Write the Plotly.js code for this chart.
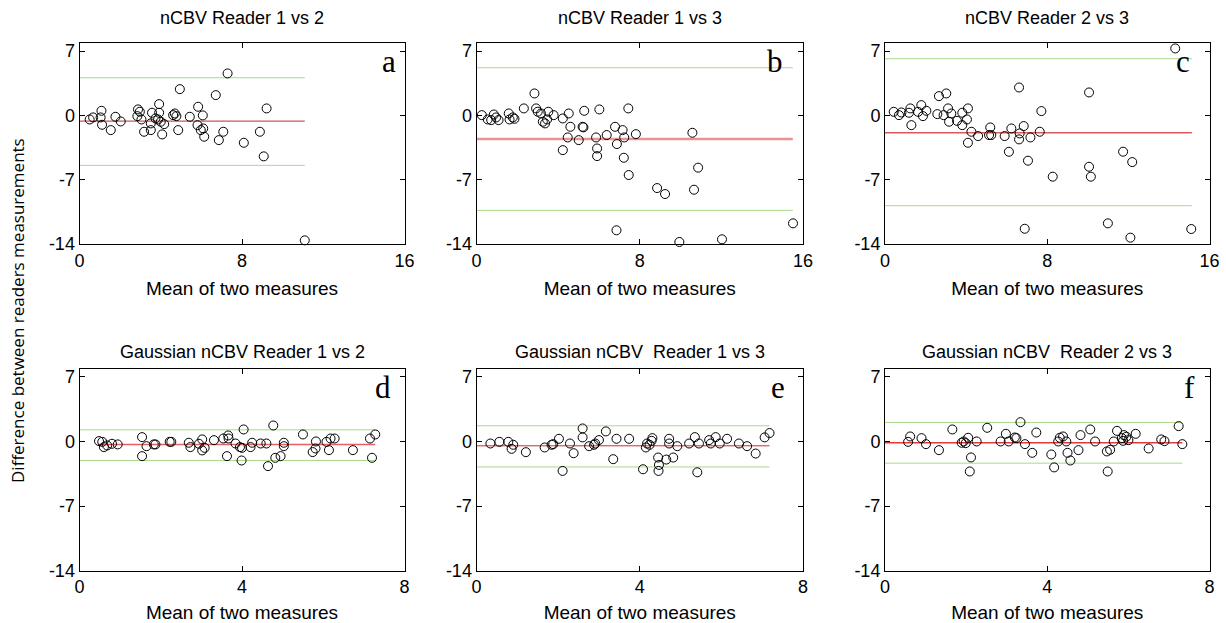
<!DOCTYPE html>
<html>
<head>
<meta charset="utf-8">
<script src="https://cdn.plot.ly/plotly-3.0.1.min.js"></script>
<style>html,body{margin:0;padding:0;background:#fff;}#chart{width:1226px;height:623px;}</style>
</head>
<body>
<div id="chart"></div>
<script>
// ---------- data ----------
const panelTitles = ["nCBV Reader 1 vs 2", "nCBV Reader 1 vs 3", "nCBV Reader 2 vs 3",
  "Gaussian nCBV Reader 1 vs 2", "Gaussian nCBV\u00a0 Reader 1 vs 3", "Gaussian nCBV\u00a0 Reader 2 vs 3"];
const panelLetters = ["a", "b", "c", "d", "e", "f"];
const yTickVals = [-14, -7, 0, 7];
const xTickTop = [0, 8, 16];
const xTickBottom = [0, 4, 8];

const xA = [0.50,0.67,1.08,1.04,1.11,1.54,1.77,2.03,2.88,2.97,2.85,3.05,3.18,3.51,3.57,3.51,3.92,3.92,3.87,4.07,4.17,4.61,4.69,4.77,4.86,4.94,5.43,5.84,6.07,5.81,5.97,6.09,6.14,6.71,6.86,7.08,8.09,8.88,9.21,7.29,9.07,11.09,3.74,4.00];
const yA = [-0.44,-0.22,0.50,-0.22,-1.02,-1.60,-0.15,-0.66,0.65,0.40,-0.08,-0.44,-1.78,-1.60,0.29,-0.87,1.23,0.29,-0.44,-2.07,-0.95,0.03,0.21,-0.08,-1.60,2.86,-0.15,0.94,0.00,-1.06,-1.60,-1.42,-2.32,2.21,-2.69,-1.78,-2.98,-1.78,0.76,4.57,-4.46,-13.6,-0.33,-0.69];

const xB = [0.26,0.55,0.85,0.72,0.96,1.08,1.58,1.62,1.78,1.86,2.32,2.84,2.92,3.00,3.16,3.25,3.36,3.46,3.52,3.78,4.23,4.52,4.60,4.23,5.01,4.47,5.20,5.28,6.02,5.86,5.91,6.38,6.79,6.88,7.16,7.24,7.44,7.81,5.91,7.22,7.46,8.85,9.24,10.58,10.86,10.66,6.86,9.94,12.03,15.51,5.24];
const yB = [0.03,-0.44,0.10,-0.51,-0.22,-0.51,0.21,-0.44,-0.22,-0.37,0.76,2.39,0.76,0.40,0.21,-0.69,-0.87,-0.44,0.40,0.03,-0.33,0.21,-1.24,-3.78,-2.69,-2.40,-1.24,0.50,0.65,-2.40,-3.60,-2.14,-1.24,-3.12,-1.60,-2.40,0.76,-2.04,-4.43,-4.61,-6.49,-7.91,-8.56,-1.89,-5.69,-8.09,-12.51,-13.78,-13.49,-11.75,-1.30];

const xC = [0.43,0.69,0.81,1.18,1.25,1.30,1.63,1.79,1.87,2.04,2.66,3.02,2.58,2.89,3.11,3.27,3.16,3.55,3.81,4.09,4.04,3.81,4.26,4.09,4.59,5.13,5.19,5.24,5.90,6.23,6.11,6.61,6.64,6.61,6.84,7.17,7.63,7.71,7.05,6.89,8.27,10.06,10.06,10.15,10.99,11.74,12.19,12.10,14.31,15.10];
const yC = [0.39,0.03,0.32,0.29,0.76,-1.06,0.39,1.12,-0.08,0.50,2.10,2.39,0.14,0.03,0.76,0.21,-0.69,-0.59,0.29,0.76,-0.44,-1.06,-1.78,-2.98,-2.25,-2.14,-1.31,-2.14,-2.25,-1.42,-3.96,3.04,-1.96,-2.61,-1.16,-2.40,-1.78,0.47,-4.93,-12.34,-6.67,2.50,-5.59,-6.67,-11.75,-3.95,-5.08,-13.31,7.29,-12.37];

const xD = [0.48,0.56,0.60,0.68,0.80,0.94,1.54,1.54,1.65,1.83,1.87,2.22,2.26,2.69,2.73,2.94,3.02,3.02,3.08,3.31,3.54,3.63,3.66,3.67,3.84,3.95,4.00,3.99,4.04,4.21,4.25,4.46,4.60,4.64,4.77,4.82,4.95,5.03,5.03,5.50,5.74,5.81,5.82,6.08,6.14,6.18,6.28,6.73,7.15,7.20,7.28];
const yD = [0.04,-0.04,-0.61,-0.43,-0.25,-0.32,0.47,-1.59,-0.51,-0.32,-0.32,-0.04,-0.04,-0.14,-0.61,-0.25,0.22,-0.97,-0.69,0.14,0.32,-1.59,0.65,0.32,-0.22,-0.61,-0.69,-2.06,1.30,-0.61,-0.14,-0.22,-0.22,-2.67,1.73,-1.77,-1.59,-0.14,-0.51,0.76,-1.15,-0.76,0.00,-0.04,-0.94,0.32,0.32,-0.94,0.32,-1.77,0.76];

const xE = [0.34,0.56,0.78,0.86,0.90,1.21,1.67,1.84,1.88,2.02,2.11,2.29,2.38,2.60,2.60,2.76,2.88,2.91,3.00,3.17,3.35,3.43,3.74,4.08,4.15,4.18,4.24,4.29,4.31,4.45,4.47,4.46,4.65,4.72,4.72,4.82,4.92,5.21,5.35,5.41,5.45,5.70,5.74,5.86,5.96,6.14,6.43,6.63,6.84,7.06,7.18];
const yE = [-0.22,-0.04,-0.04,-0.80,-0.36,-1.16,-0.65,-0.36,-0.29,0.29,-3.19,-0.22,-1.27,1.41,0.44,-0.51,-0.36,-0.22,0.15,1.09,-1.92,0.29,0.29,-3.01,-0.65,-0.22,-0.36,0.07,0.36,-1.74,-2.54,-3.19,-1.96,0.29,-0.22,-1.74,-0.51,-0.22,0.47,-3.34,-0.22,0.15,-0.22,0.47,-0.22,0.29,-0.22,-0.51,-1.31,0.44,0.91];

const xF = [0.57,0.62,0.90,1.01,1.33,1.66,1.89,1.94,1.99,2.05,2.12,2.09,2.26,2.52,2.85,2.98,3.05,3.20,3.24,3.34,3.45,3.63,3.73,4.10,4.17,4.27,4.31,4.39,4.47,4.50,4.57,4.77,4.82,5.06,5.18,5.47,5.55,5.49,5.64,5.72,5.84,5.87,5.89,5.95,6.00,6.18,6.50,6.81,6.89,7.24,7.33];
const yF = [-0.04,0.54,0.36,-0.29,-0.94,1.30,-0.14,0.00,-0.18,0.40,-1.73,-3.25,0.00,1.48,0.00,0.83,0.00,0.43,0.36,2.09,-0.29,-1.23,0.97,-1.41,-2.81,0.00,0.40,0.54,0.00,-1.23,-2.06,-0.94,0.69,1.30,0.00,-1.08,-0.90,-3.25,0.00,1.15,0.36,0.07,0.69,0.51,0.14,0.83,-0.76,0.22,0.04,1.66,-0.29];

// bias (mean difference) and limits of agreement per panel
const bias     = [-0.62, -2.56, -1.90, -0.32, -0.47, -0.14];
const loaUpper = [ 4.10,  5.19,  6.17,  1.26,  1.70,  2.06];
const loaLower = [-5.44,-10.34, -9.83, -2.06, -2.76, -2.35];
const lineStart = [0, 0, 0, 0, 0, 0];
const biasStart = [0, 0, 0, 0.45, 0, 0];
const lineEnd   = [11.09, 15.5, 15.13, 7.28, 7.18, 7.33];

// ---------- styling ----------
const xs = [xA, xB, xC, xD, xE, xF];
const ys = [yA, yB, yC, yD, yE, yF];
const biasColor = ['#b83030', '#e99494', '#d85a5a', '#e66262', '#d42a2a', '#e03a3a'];
const biasWidth = [1, 2.5, 1.5, 1.5, 1, 1.5];
const loaColor = '#a9d98a';
const FONT = 'Liberation Sans, Arial, sans-serif';
const W = 1226, H = 623;

const colPx = [[79.5, 404.5], [476.5, 803], [885, 1209.5]];
const rowPx = [[43.3, 244], [369, 570.7]];
const letterRight = [6.5, 18, 17.5, 12, 16, 13];

const traces = [];
const layout = {
  width: W, height: H,
  margin: {l: 0, r: 0, t: 0, b: 0},
  paper_bgcolor: '#fff', plot_bgcolor: '#fff',
  showlegend: false,
  font: {family: FONT, size: 18, color: '#000'},
  annotations: []
};

for (let i = 0; i < 6; i++) {
  const r = Math.floor(i / 3), c = i % 3;
  const n = i + 1;
  const xa = 'x' + (n === 1 ? '' : n), ya = 'y' + (n === 1 ? '' : n);
  const xkey = 'xaxis' + (n === 1 ? '' : n), ykey = 'yaxis' + (n === 1 ? '' : n);
  const top = r === 0;
  layout[xkey] = {
    domain: [colPx[c][0] / W, colPx[c][1] / W],
    anchor: ya,
    range: top ? [0, 16] : [0, 8],
    tickvals: top ? xTickTop : xTickBottom,
    ticktext: (top ? xTickTop : xTickBottom).map(String),
    ticks: 'inside', ticklen: 5, tickcolor: '#000',
    showline: true, linecolor: '#000', linewidth: 1, mirror: 'ticks',
    showgrid: false, zeroline: false,
    tickfont: {family: FONT, size: 18},
    title: {text: 'Mean of two measures', font: {family: FONT, size: 19}, standoff: 12}
  };
  layout[ykey] = {
    domain: [1 - rowPx[r][1] / H, 1 - rowPx[r][0] / H],
    anchor: xa,
    range: [-14, 7.85],
    tickvals: yTickVals,
    ticktext: yTickVals.map(String),
    ticks: 'inside', ticklen: 5, tickcolor: '#000',
    showline: true, linecolor: '#000', linewidth: 1, mirror: 'ticks',
    showgrid: false, zeroline: false,
    tickfont: {family: FONT, size: 18}
  };
  // limits of agreement
  traces.push({x: [lineStart[i], lineEnd[i]], y: [loaUpper[i], loaUpper[i]], xaxis: xa, yaxis: ya,
    mode: 'lines', line: {color: loaColor, width: 1}, hoverinfo: 'skip'});
  traces.push({x: [lineStart[i], lineEnd[i]], y: [loaLower[i], loaLower[i]], xaxis: xa, yaxis: ya,
    mode: 'lines', line: {color: loaColor, width: 1}, hoverinfo: 'skip'});
  // bias
  traces.push({x: [biasStart[i], lineEnd[i]], y: [bias[i], bias[i]], xaxis: xa, yaxis: ya,
    mode: 'lines', line: {color: biasColor[i], width: biasWidth[i]}, hoverinfo: 'skip'});
  // points
  traces.push({x: xs[i], y: ys[i], xaxis: xa, yaxis: ya, mode: 'markers', cliponaxis: false,
    marker: {symbol: 'circle-open', size: 9, color: '#000', line: {width: 1, color: '#000'}}});

  // subplot title
  layout.annotations.push({
    text: panelTitles[i], xref: 'paper', yref: 'paper',
    x: (colPx[c][0] + colPx[c][1]) / 2 / W,
    y: 1 - (top ? 18 : 352) / H,
    xanchor: 'center', yanchor: 'middle', showarrow: false,
    font: {family: FONT, size: 18, color: '#000'}
  });
  // panel letter
  layout.annotations.push({
    text: panelLetters[i], xref: 'paper', yref: 'paper',
    x: (colPx[c][1] - letterRight[i]) / W, y: 1 - (rowPx[r][0] + 18) / H,
    xanchor: 'right', yanchor: 'middle', showarrow: false,
    font: {family: 'Liberation Serif, Times New Roman, serif', size: 31, color: '#000'}
  });
}

layout.annotations.push({
  text: 'Difference between readers measurements', xref: 'paper', yref: 'paper',
  x: 18 / W, y: 1 - 311 / H, xanchor: 'center', yanchor: 'middle', textangle: -90,
  showarrow: false, font: {family: 'Open Sans, sans-serif', size: 17, color: '#000'}
});

Plotly.newPlot('chart', traces, layout, {displayModeBar: false, staticPlot: true});
</script>
</body>
</html>
